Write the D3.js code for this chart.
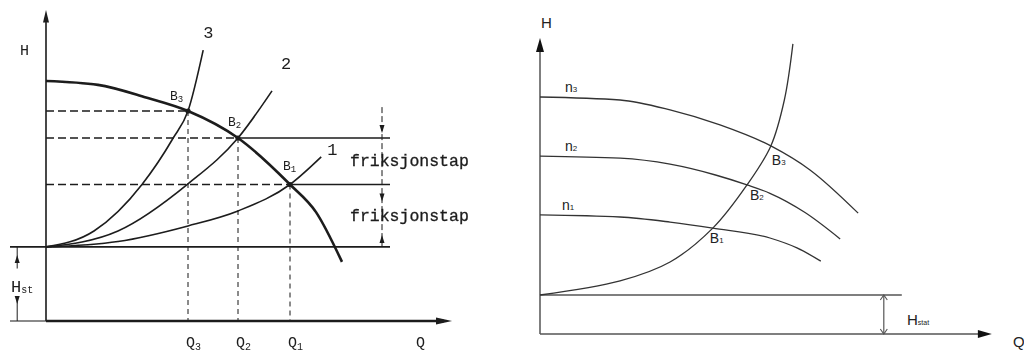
<!DOCTYPE html>
<html>
<head>
<meta charset="utf-8">
<script src="https://cdn.jsdelivr.net/npm/d3@7/dist/d3.min.js"></script>
<style>
  html, body { margin: 0; padding: 0; background: #fff; }
  svg { display: block; }
</style>
</head>
<body>
<script>
// ---------- Left diagram: pump curve against three system curves ----------
const staticHead = 2.47;                       // H_st
const pumpCurve = [[0, 8.0], [1.3, 7.87], [2.5, 7.45], [3.55, 7.0], [4.8, 6.1], [6.1, 4.55], [6.75, 3.63], [7.4, 1.97]];
const systemCurve1 = [[0, 2.47], [1.8, 2.65], [3.55, 3.17], [4.8, 3.67], [6.1, 4.55], [6.88, 5.47]];
const systemCurve2 = [[0, 2.47], [1.8, 3.0], [3.55, 4.57], [4.8, 6.1], [5.65, 7.67]];
const systemCurve3 = [[0, 2.47], [1.2, 3.0], [2.4, 4.55], [3.18, 6.1], [3.55, 7.0], [3.93, 9.03]];
const systemLabels = ["1", "2", "3"];
const operatingNames = ["B1", "B2", "B3"];
const operatingQ = [6.1, 4.8, 3.55];
const operatingH = [4.55, 6.1, 7.0];
const flowLabels = ["Q1", "Q2", "Q3"];
const frictionLabel = "friksjonstap";

// ---------- Right diagram: pump curves at three speeds ----------
const staticHeadR = 1.3;                       // H_stat
const speedCurve1 = [[0, 3.97], [1.78, 3.9], [2.89, 3.73], [3.84, 3.53], [5.11, 3.2], [5.71, 2.87], [6.24, 2.43]];
const speedCurve2 = [[0, 5.93], [1.78, 5.86], [2.89, 5.66], [3.9, 5.3], [4.6, 4.97], [5.11, 4.69], [5.89, 4.05], [6.67, 3.17]];
const speedCurve3 = [[0, 7.9], [1.78, 7.8], [2.89, 7.47], [4.0, 6.97], [5.13, 6.27], [6.0, 5.47], [7.07, 4.03]];
const systemCurveR = [[0, 1.3], [1.78, 1.77], [2.89, 2.4], [3.84, 3.53], [4.6, 4.97], [5.13, 6.27], [5.43, 7.8], [5.62, 9.67]];
const speedNames = ["n1", "n2", "n3"];
const pointNamesR = ["B1", "B2", "B3"];
const pointQR = [3.84, 4.6, 5.13];
const pointHR = [3.53, 4.97, 6.27];

const W = 1024, H = 356;
const svg = d3.select("body").append("svg").attr("width", W).attr("height", H)
  .style("background", "#fff");

const defs = svg.append("defs");
defs.append("filter").attr("id", "soft")
  .append("feGaussianBlur").attr("stdDeviation", 0.45);

// helper: label with a subscript tail
function subLabel(g, x, y, main, sub, size, subSize, font, fill, dy) {
  const t = g.append("text").attr("x", x).attr("y", y)
    .attr("font-family", font).attr("font-size", size).attr("fill", fill);
  t.append("tspan").text(main);
  t.append("tspan").attr("font-size", subSize).attr("dy", dy).text(sub);
  return t;
}

// ======================= LEFT =======================
const xL = d3.scaleLinear().domain([0, 10]).range([46, 446]);
const yL = d3.scaleLinear().domain([0, 10]).range([321, 21]);
const ink = "#1c1c1c";
const gL = svg.append("g").attr("filter", "url(#soft)");
const lineL = d3.line().x(d => xL(d[0])).y(d => yL(d[1])).curve(d3.curveMonotoneX);
const monoFont = "'Liberation Mono', 'DejaVu Sans Mono', monospace";

// y axis with arrow
gL.append("line").attr("x1", xL(0)).attr("x2", xL(0)).attr("y1", yL(0)).attr("y2", yL(10.2))
  .attr("stroke", ink).attr("stroke-width", 1.6);
gL.append("path")
  .attr("d", `M${xL(0)},${yL(10.37)} L${xL(0) - 3},${yL(9.95)} L${xL(0) + 3},${yL(9.95)} Z`)
  .attr("fill", ink);
// x axis with arrow
gL.append("line").attr("x1", xL(0)).attr("x2", xL(9.95)).attr("y1", yL(0)).attr("y2", yL(0))
  .attr("stroke", ink).attr("stroke-width", 2.6);
gL.append("path")
  .attr("d", `M${xL(10.15)},${yL(0)} L${xL(9.75)},${yL(0) - 3.5} L${xL(9.75)},${yL(0) + 3.5} Z`)
  .attr("fill", ink);
gL.append("line").attr("x1", xL(-0.9)).attr("x2", xL(0)).attr("y1", yL(0)).attr("y2", yL(0))
  .attr("stroke", ink).attr("stroke-width", 1.2);

// static head line
gL.append("line").attr("x1", xL(-0.9)).attr("x2", xL(8.6)).attr("y1", yL(staticHead)).attr("y2", yL(staticHead))
  .attr("stroke", ink).attr("stroke-width", 1.6);

// dashed guide lines from each operating point
operatingQ.forEach((q, i) => {
  gL.append("line").attr("x1", xL(0)).attr("x2", xL(q)).attr("y1", yL(operatingH[i])).attr("y2", yL(operatingH[i]))
    .attr("stroke", ink).attr("stroke-width", 1.3).attr("stroke-dasharray", "8,4");
  gL.append("line").attr("x1", xL(q)).attr("x2", xL(q)).attr("y1", yL(operatingH[i])).attr("y2", yL(0))
    .attr("stroke", ink).attr("stroke-width", 1).attr("stroke-dasharray", "5,4");
});
// solid continuation of the B1, B2 levels to the friction dimension
[0, 1].forEach(i => {
  gL.append("line").attr("x1", xL(operatingQ[i])).attr("x2", xL(8.6))
    .attr("y1", yL(operatingH[i])).attr("y2", yL(operatingH[i]))
    .attr("stroke", ink).attr("stroke-width", 1.6);
});

// system curves
[systemCurve1, systemCurve2, systemCurve3].forEach(c => {
  gL.append("path").attr("d", lineL(c)).attr("fill", "none").attr("stroke", ink).attr("stroke-width", 1.6);
});
// pump curve
gL.append("path").attr("d", lineL(pumpCurve)).attr("fill", "none").attr("stroke", ink).attr("stroke-width", 2.6);

// operating points
operatingQ.forEach((q, i) => {
  gL.append("circle").attr("cx", xL(q)).attr("cy", yL(operatingH[i])).attr("r", 2.6).attr("fill", ink);
});

// system curve numbers, at the curve ends
[systemCurve1, systemCurve2, systemCurve3].forEach((c, i) => {
  const end = c[c.length - 1];
  const off = [[6, -2], [9, -22], [0, -12]][i];
  gL.append("text").attr("x", xL(end[0]) + off[0]).attr("y", yL(end[1]) + off[1])
    .attr("font-family", monoFont).attr("font-size", 17).attr("fill", ink).text(systemLabels[i]);
});

// operating point names
const bOff = [[-7, -15], [-10, -12], [-18, -11]];
operatingNames.forEach((n, i) => {
  subLabel(gL, xL(operatingQ[i]) + bOff[i][0], yL(operatingH[i]) + bOff[i][1],
    n[0], n[1], 13, 9, monoFont, ink, 2);
});

// flow labels
flowLabels.forEach((n, i) => {
  subLabel(gL, xL(operatingQ[i]) - 2, 347, n[0], n[1], 15, 10, monoFont, ink, 3);
});
gL.append("text").attr("x", xL(9.25)).attr("y", 347).attr("font-family", monoFont)
  .attr("font-size", 15).attr("fill", ink).text("Q");
gL.append("text").attr("x", 20).attr("y", 55).attr("font-family", monoFont)
  .attr("font-size", 15).attr("fill", ink).text("H");

// friction loss dimension
const fx = xL(8.4);
gL.append("line").attr("x1", fx).attr("x2", fx).attr("y1", yL(7.13)).attr("y2", yL(staticHead))
  .attr("stroke", ink).attr("stroke-width", 1).attr("stroke-dasharray", "6,3");
function tri(g, x, y, dir) { // dir 1 = pointing down, -1 = pointing up
  g.append("path").attr("d", `M${x},${y} L${x - 2.5},${y - dir * 8} L${x + 2.5},${y - dir * 8} Z`).attr("fill", ink);
}
tri(gL, fx, yL(operatingH[1]) - 5, 1);
tri(gL, fx, yL(operatingH[0]) + 17, 1);
tri(gL, fx, yL(staticHead) - 12, -1);
gL.append("text").attr("x", xL(7.6)).attr("y", 166).attr("font-family", monoFont)
  .attr("font-size", 16.5).attr("fill", ink).attr("stroke", ink).attr("stroke-width", 0.3).text(frictionLabel);
gL.append("text").attr("x", xL(7.6)).attr("y", 221).attr("font-family", monoFont)
  .attr("font-size", 16.5).attr("fill", ink).attr("stroke", ink).attr("stroke-width", 0.3).text(frictionLabel);

// static head dimension
const hx = xL(-0.72);
gL.append("line").attr("x1", hx).attr("x2", hx).attr("y1", yL(staticHead)).attr("y2", yL(1.75))
  .attr("stroke", ink).attr("stroke-width", 1);
gL.append("line").attr("x1", hx).attr("x2", hx).attr("y1", yL(0.8)).attr("y2", yL(0))
  .attr("stroke", ink).attr("stroke-width", 1);
tri(gL, hx, yL(staticHead) + 8, -1);
tri(gL, hx, yL(0) - 17, 1);
subLabel(gL, 11, 292, "H", "st", 17, 10, monoFont, ink, 1);

// ======================= RIGHT =======================
const xR = d3.scaleLinear().domain([0, 10]).range([540, 990]);
const yR = d3.scaleLinear().domain([0, 10]).range([334, 34]);
const inkR = "#333";
const gR = svg.append("g");
const lineR = d3.line().x(d => xR(d[0])).y(d => yR(d[1])).curve(d3.curveMonotoneX);
// the system curve turns nearly vertical, so a centripetal spline is used for it
const lineRS = d3.line().x(d => xR(d[0])).y(d => yR(d[1])).curve(d3.curveCatmullRom.alpha(0.5));
const sans = "Arial, 'Liberation Sans', sans-serif";

// axes
gR.append("line").attr("x1", xR(0)).attr("x2", xR(0)).attr("y1", yR(0)).attr("y2", yR(9.6))
  .attr("stroke", "#555").attr("stroke-width", 1.5);
gR.append("path").attr("d", `M${xR(0)},${yR(9.87)} L${xR(0) - 4},${yR(9.4)} L${xR(0) + 4},${yR(9.4)} Z`).attr("fill", "#111");
gR.append("line").attr("x1", xR(0)).attr("x2", xR(9.8)).attr("y1", yR(0)).attr("y2", yR(0))
  .attr("stroke", "#555").attr("stroke-width", 1.5);
gR.append("path").attr("d", `M${xR(10.04)},${yR(0)} L${xR(9.73)},${yR(0) - 4} L${xR(9.73)},${yR(0) + 4} Z`).attr("fill", "#111");

// static head line
gR.append("line").attr("x1", xR(0)).attr("x2", xR(8.04)).attr("y1", yR(staticHeadR)).attr("y2", yR(staticHeadR))
  .attr("stroke", "#555").attr("stroke-width", 1.5);

// static head dimension with open arrowheads
const dx = xR(7.64);
gR.append("line").attr("x1", dx).attr("x2", dx).attr("y1", yR(staticHeadR)).attr("y2", yR(0))
  .attr("stroke", "#555").attr("stroke-width", 1.2);
gR.append("path").attr("d", `M${dx - 3.5},${yR(staticHeadR) + 5} L${dx},${yR(staticHeadR)} L${dx + 3.5},${yR(staticHeadR) + 5}`)
  .attr("fill", "none").attr("stroke", "#555").attr("stroke-width", 1.1);
gR.append("path").attr("d", `M${dx - 3.5},${yR(0) - 5} L${dx},${yR(0)} L${dx + 3.5},${yR(0) - 5}`)
  .attr("fill", "none").attr("stroke", "#555").attr("stroke-width", 1.1);

// curves
[speedCurve1, speedCurve2, speedCurve3].forEach(c => {
  gR.append("path").attr("d", lineR(c)).attr("fill", "none").attr("stroke", inkR).attr("stroke-width", 1.3);
});
gR.append("path").attr("d", lineRS(systemCurveR)).attr("fill", "none")
  .attr("stroke", inkR).attr("stroke-width", 1.3);

// labels
gR.append("text").attr("x", 541).attr("y", 28).attr("font-family", sans).attr("font-size", 15).attr("fill", "#222").text("H");
[speedCurve1, speedCurve2, speedCurve3].forEach((c, i) => {
  subLabel(gR, xR(c[0][0]) + [22, 25, 25][i], yR(c[0][1]) - 5, speedNames[i][0], speedNames[i][1], 14, 8, sans, "#222", 0);
});
const pOff = [[-3, 15], [3, 15], [1, 19]];
pointNamesR.forEach((n, i) => {
  subLabel(gR, xR(pointQR[i]) + pOff[i][0], yR(pointHR[i]) + pOff[i][1], n[0], n[1], 14, 8, sans, "#222", 0);
});
subLabel(gR, 907, 325, "H", "stat", 15, 7, sans, "#222", 0);
gR.append("text").attr("x", 1013).attr("y", 347).attr("font-family", sans).attr("font-size", 15).attr("fill", "#222").text("Q");
</script>
</body>
</html>
